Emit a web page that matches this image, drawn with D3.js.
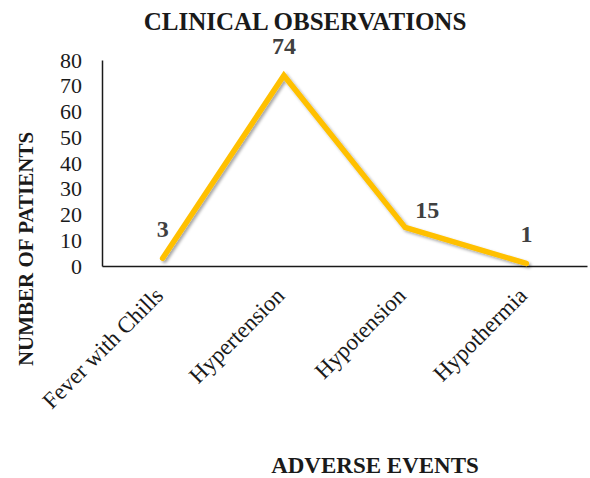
<!DOCTYPE html>
<html>
<head>
<meta charset="utf-8">
<script src="https://cdn.jsdelivr.net/npm/d3@7"></script>
<style>
  html, body { margin: 0; padding: 0; background: #fff; }
  svg text { font-family: "Liberation Serif", "Times New Roman", serif; }
</style>
</head>
<body>
<svg id="chart" width="590" height="478"></svg>
<script>
// Adverse events observed and the number of patients for each
const categories = ["Fever with Chills", "Hypertension", "Hypotension", "Hypothermia"];
const patients = [3, 74, 15, 1];
const yTicks = [0, 10, 20, 30, 40, 50, 60, 70, 80];

const svg = d3.select("#chart");
const plot = { left: 102, right: 587, top: 60, bottom: 266 };

const x = d3.scalePoint().domain(categories).range([plot.left, plot.right]).padding(0.5);
const y = d3.scaleLinear().domain([0, 80]).range([plot.bottom, plot.top]);

const defs = svg.append("defs");
const shadow = defs.append("filter").attr("id", "lineShadow")
  .attr("x", "-10%").attr("y", "-10%").attr("width", "120%").attr("height", "120%");
shadow.append("feDropShadow")
  .attr("dx", 2).attr("dy", 2).attr("stdDeviation", 1.5)
  .attr("flood-color", "#000").attr("flood-opacity", 0.35);

// Title
svg.append("text")
  .attr("x", 305).attr("y", 30)
  .attr("text-anchor", "middle")
  .attr("font-size", 25).attr("font-weight", "bold").attr("fill", "#1a1a1a")
  .text("CLINICAL OBSERVATIONS");

// Y axis: line plus labels, no tick marks
const yAxis = d3.axisLeft(y).tickValues(yTicks).tickSize(0).tickPadding(20);
const gy = svg.append("g").attr("transform", `translate(${plot.left},0)`).call(yAxis);
gy.select(".domain").attr("stroke", "#1a1a1a").attr("stroke-width", 1.5);
gy.selectAll("text")
  .attr("font-size", 22).attr("fill", "#1a1a1a")
  .style("font-family", "'Liberation Serif', serif");

// X axis line
const xAxis = d3.axisBottom(x).tickSize(0).tickFormat("");
const gx = svg.append("g").attr("transform", `translate(0,${plot.bottom})`).call(xAxis);
gx.select(".domain").attr("stroke", "#1a1a1a").attr("stroke-width", 1.5);

// Rotated category labels, ending under each point
svg.append("g").selectAll("text")
  .data(categories)
  .join("text")
  .attr("transform", d => `translate(${x(d) + 2},${plot.bottom + 31}) rotate(-45)`)
  .attr("text-anchor", "end")
  .attr("font-size", 23).attr("fill", "#1a1a1a")
  .text(d => d);

// Line
const data = categories.map((c, i) => ({ c, v: patients[i] }));
const line = d3.line().x(d => x(d.c)).y(d => y(d.v));
svg.append("path")
  .datum(data)
  .attr("d", line)
  .attr("fill", "none")
  .attr("stroke", "#FFC000")
  .attr("stroke-width", 5.5)
  .attr("stroke-linejoin", "miter")
  .attr("stroke-linecap", "round")
  .attr("filter", "url(#lineShadow)");

// Value labels
const labelShift = { "Hypotension": [22, 12] };
svg.append("g").selectAll("text")
  .data(data)
  .join("text")
  .attr("x", d => x(d.c) + (labelShift[d.c] ? labelShift[d.c][0] : 0))
  .attr("y", d => y(d.v) - 21 + (labelShift[d.c] ? labelShift[d.c][1] : 0))
  .attr("text-anchor", "middle")
  .attr("font-size", 24).attr("font-weight", "bold").attr("fill", "#404040")
  .text(d => d.v);

// Axis titles
svg.append("text")
  .attr("transform", "translate(33,249) rotate(-90)")
  .attr("text-anchor", "middle")
  .attr("font-size", 21).attr("font-weight", "bold").attr("fill", "#1a1a1a")
  .text("NUMBER OF PATIENTS");

svg.append("text")
  .attr("x", 375).attr("y", 473)
  .attr("text-anchor", "middle")
  .attr("font-size", 23).attr("font-weight", "bold").attr("fill", "#1a1a1a")
  .text("ADVERSE EVENTS");
</script>
</body>
</html>
